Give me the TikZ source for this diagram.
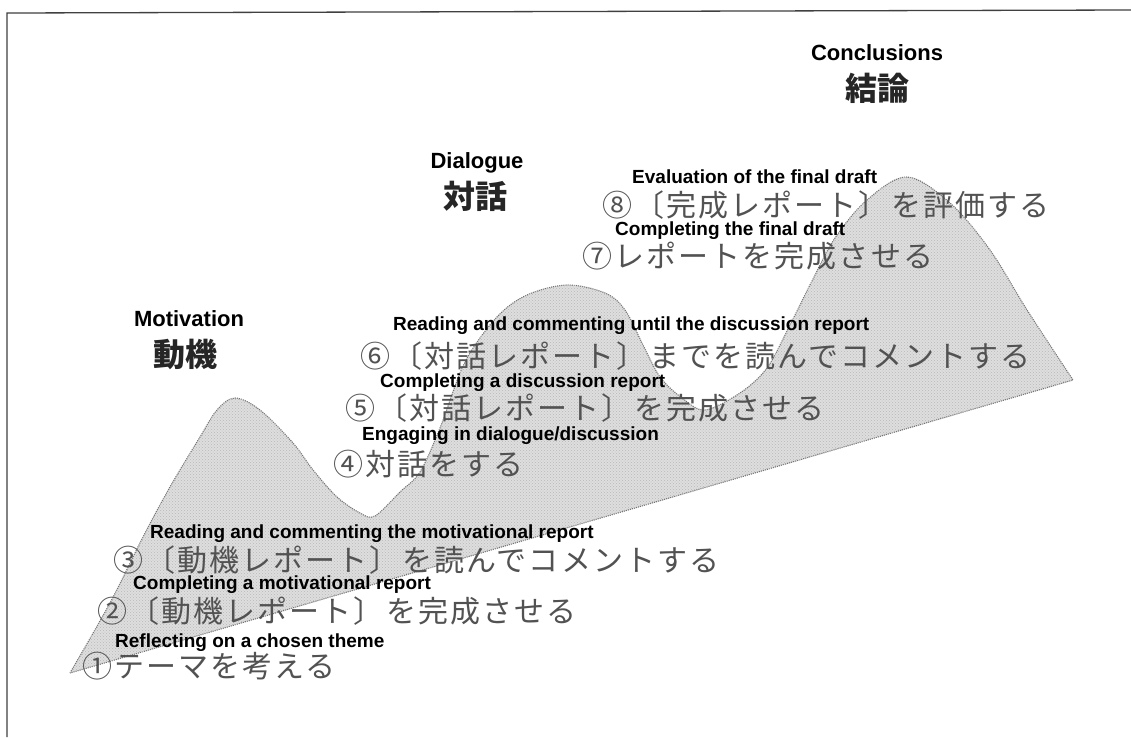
\documentclass[tikz,border=0pt]{standalone}
\usepackage{fontspec}
\setmainfont{Liberation Sans}
\newfontfamily\jp{Noto Sans CJK JP}
\newfontfamily\jpsp{Noto Sans CJK JP}[LetterSpace=7]
\usetikzlibrary{patterns}
\tikzset{
  lbl/.style={font=\bfseries\fontsize{19}{22}\selectfont, anchor=base west, inner sep=0pt, text=black},
  jtxt/.style={font=\jpsp\fontsize{30}{34}\selectfont, text=black!68, anchor=base west, inner sep=0pt},
  head/.style={font=\bfseries\fontsize{22}{26}\selectfont, anchor=base, inner sep=0pt, text=black},
  jhead/.style={font=\jp\bfseries\fontsize{32}{36}\selectfont, anchor=base, inner sep=0pt, text=black!85},
  mountain/.style={draw=black!55, densely dotted, line width=1.1pt, fill=black!13,
    postaction={pattern=crosshatch dots, pattern color=black!28}},
  frame/.style={draw=black!75, line width=1.3pt}
}
\begin{document}
\begin{tikzpicture}[x=1pt,y=-1pt]
\useasboundingbox (0,0) rectangle (1131,737);
\fill[white] (0,0) rectangle (1131,737);
% frame (scan edge)
\draw[frame] (7,737) -- (7,13) -- (1131,10);
% mountain
\path[mountain] plot[smooth, tension=0.55] coordinates {
 (70,673) (110,603) (143,537) (170,487) (200,437) (217,410) (235,398)
 (260,410) (293,443) (313,470) (337,497) (360,513) (375,516)
 (400,492) (420,472) (440,428) (465,362) (497,317) (527,295) (567,285)
 (605,293) (625,310) (643,345) (660,377) (682,398) (705,410)
 (740,393) (767,368) (790,325) (812,281) (835,238) (867,200) (907,177)
 (950,203) (990,250) (1027,310) (1073,380)} -- cycle;
% headings
\node[head] (hconc) at (877,60) {Conclusions};
\node[jhead] (jconc) at (877,100) {結論};
\node[head] (hdia) at (477,168) {Dialogue};
\node[jhead] (jdia) at (475,208) {対話};
\node[head] (hmot) at (189,326) {Motivation};
\node[jhead] (jmot) at (185,366) {動機};
% step 8
\node[lbl] (l8) at (632,183) {Evaluation of the final draft};
\node[jtxt] (j8) at (602,216) {⑧〔完成レポート〕を評価する};
% step 7
\node[lbl] (l7) at (615,235) {Completing the final draft};
\node[jtxt] (j7) at (582,267) {⑦レポートを完成させる};
% step 6
\node[lbl] (l6) at (393,330) {Reading and commenting until the discussion report};
\node[jtxt] (j6) at (360,367) {⑥〔対話レポート〕までを読んでコメントする};
% step 5
\node[lbl] (l5) at (380,387) {Completing a discussion report};
\node[jtxt] (j5) at (345,419) {⑤〔対話レポート〕を完成させる};
% step 4
\node[lbl] (l4) at (362,440) {Engaging in dialogue/discussion};
\node[jtxt] (j4) at (333,475) {④対話をする};
% step 3
\node[lbl] (l3) at (150,538) {Reading and commenting the motivational report};
\node[jtxt] (j3) at (113,571) {③〔動機レポート〕を読んでコメントする};
% step 2
\node[lbl] (l2) at (133,589) {Completing a motivational report};
\node[jtxt] (j2) at (97,622) {②〔動機レポート〕を完成させる};
% step 1
\node[lbl] (l1) at (115,647) {Reflecting on a chosen theme};
\node[jtxt] (j1) at (82,677) {①テーマを考える};
\end{tikzpicture}
\end{document}
